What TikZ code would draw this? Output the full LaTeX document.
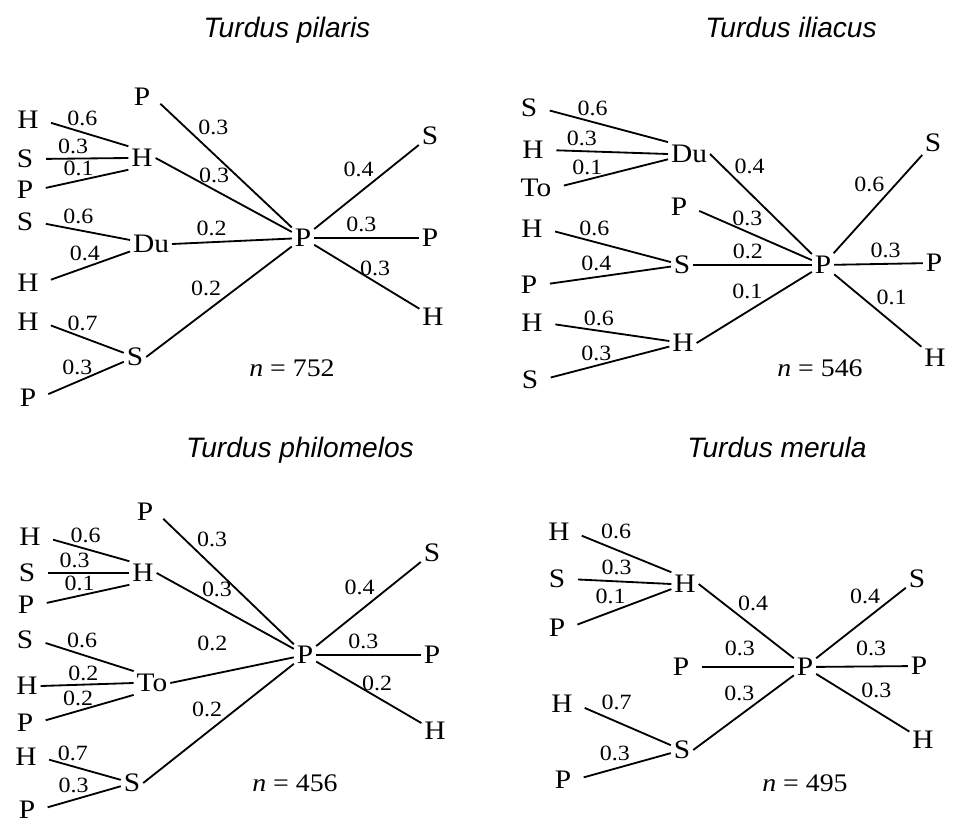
\documentclass[tikz,border=0pt]{standalone}
\usepackage{fontspec}
\setmainfont{Liberation Serif}[FakeStretch=1.1]
\newfontfamily\titlefont{Liberation Sans}
\usetikzlibrary{positioning}

\begin{document}
\begin{tikzpicture}[
    x=0.025cm, y=-0.025cm, line width=1.3pt,
    sp/.style={font=\fontsize{19}{22}\selectfont, inner sep=1.5pt},
    lbl/.style={font=\fontsize{15.5}{18}\selectfont, inner sep=1pt},
    ttl/.style={font=\titlefont\itshape\fontsize{20}{24}\selectfont, anchor=base, inner sep=0pt},
    cnt/.style={font=\fontsize{18}{21}\selectfont},
    lf/.style={shorten <=7pt}
  ]
  \useasboundingbox (0,0) rectangle (964,829);

  % Turdus pilaris
  \node[ttl] (ta) at (287,37) {Turdus pilaris};
  \node[sp] (aH1) at (28,120) {H};
  \node[sp] (aS1) at (25,159) {S};
  \node[sp] (aP1) at (25,190) {P};
  \node[sp] (aS2) at (25,222) {S};
  \node[sp] (aH2) at (28,283) {H};
  \node[sp] (aH3) at (28,322) {H};
  \node[sp] (aP2) at (28,398) {P};
  \node[sp] (aPt) at (142,97) {P};
  \node[sp] (aH) at (142,158) {H};
  \node[sp] (aDu) at (151,244) {Du};
  \node[sp] (aS) at (135,357) {S};
  \node[sp] (aP) at (303,238) {P};
  \node[sp] (aSr) at (430,136) {S};
  \node[sp] (aPr) at (430,238) {P};
  \node[sp] (aHr) at (433,317) {H};
  \node[cnt] (an) at (292,368) {\textit{n} = 752};

  \draw[lf] (aH1.east) -- node[lbl, pos=.47, above=3pt] {0.6} (aH.north west);
  \draw[lf] (aS1.east) -- node[lbl, pos=.4, above=2pt] {0.3} (aH.west);
  \draw[lf] (aP1.east) -- node[lbl, pos=.46, above=2pt] {0.1} (aH.south west);
  \draw[lf] (aS2.east) -- node[lbl, pos=.45, above=3pt] {0.6} (aDu);
  \draw[lf] (aH2.east) -- node[lbl, pos=.49, above=3pt] {0.4} (aDu);
  \draw[lf] (aH3.east) -- node[lbl, pos=.5, above=3pt] {0.7} (aS);
  \draw[lf] (aP2.east) -- node[lbl, pos=.45, above=3pt] {0.3} (aS);
  \draw[lf] (aPt.east) -- node[lbl, pos=.31, above right] {0.3} (aP);
  \draw (aH.east) -- node[lbl, pos=.43, above=3pt] {0.3} (aP);
  \draw (aDu.east) -- node[lbl, pos=.33, above=3pt] {0.2} (aP);
  \draw (aS.east) -- node[lbl, pos=.53, above left] {0.2} (aP);
  \draw (aP) -- node[lbl, pos=.59, above left] {0.4} (aSr);
  \draw (aP) -- node[lbl, pos=.45, above=3pt] {0.3} (aPr);
  \draw (aP) -- node[lbl, pos=.58, above=3pt] {0.3} (aHr);

  % Turdus iliacus
  \node[ttl] (tb) at (791,37) {Turdus iliacus};
  \node[sp] (bS1) at (529,108) {S};
  \node[sp] (bH1) at (533,150) {H};
  \node[sp] (bTo) at (536,188) {To};
  \node[sp] (bH2) at (532,229) {H};
  \node[sp] (bP1) at (529,285) {P};
  \node[sp] (bH3) at (532,323) {H};
  \node[sp] (bS2) at (530,380) {S};
  \node[sp] (bDu) at (689,154) {Du};
  \node[sp] (bPt) at (679,207) {P};
  \node[sp] (bS) at (682,265) {S};
  \node[sp] (bH) at (683,343) {H};
  \node[sp] (bP) at (823,265) {P};
  \node[sp] (bSr) at (933,143) {S};
  \node[sp] (bPr) at (934,263) {P};
  \node[sp] (bHr) at (935,358) {H};
  \node[cnt] (bn) at (820,368) {\textit{n} = 546};

  \draw[lf] (bS1.east) -- node[lbl, pos=.41, above=3pt] {0.6} (bDu.north west);
  \draw[lf] (bH1.east) -- node[lbl, pos=.29, above=2pt] {0.3} (bDu.west);
  \draw[lf] (bTo.east) -- node[lbl, pos=.29, above=2pt] {0.1} (bDu);
  \draw[lf] (bH2.east) -- node[lbl, pos=.39, above=3pt] {0.6} (bS);
  \draw[lf] (bP1.east) -- node[lbl, pos=.43, above=3pt] {0.4} (bS);
  \draw[lf] (bH3.east) -- node[lbl, pos=.43, above=2pt] {0.6} (bH);
  \draw[lf] (bS2.east) -- node[lbl, pos=.43, above=2pt] {0.3} (bH);
  \draw (bDu.east) -- node[lbl, pos=.22, above right] {0.4} (bP);
  \draw[lf] (bPt.east) -- node[lbl, pos=.47, above=3pt] {0.3} (bP);
  \draw (bS.east) -- node[lbl, pos=.46, above=3pt] {0.2} (bP);
  \draw (bH.east) -- node[lbl, pos=.59, above left] {0.1} (bP);
  \draw (bP) -- node[lbl, pos=.6, above left] {0.6} (bSr);
  \draw (bP) -- node[lbl, pos=.58, above=3pt] {0.3} (bPr);
  \draw (bP) -- node[lbl, pos=.46, above right] {0.1} (bHr);

  % Turdus philomelos
  \node[ttl] (tc) at (300,457) {Turdus philomelos};
  \node[sp] (cH1) at (30,537) {H};
  \node[sp] (cS1) at (27,573) {S};
  \node[sp] (cP1) at (26,605) {P};
  \node[sp] (cS2) at (25,640) {S};
  \node[sp] (cH2) at (27,686) {H};
  \node[sp] (cP2) at (25,723) {P};
  \node[sp] (cH3) at (26,757) {H};
  \node[sp] (cP3) at (27,810) {P};
  \node[sp] (cPt) at (145,512) {P};
  \node[sp] (cH) at (143,573) {H};
  \node[sp] (cTo) at (152,683) {To};
  \node[sp] (cS) at (132,783) {S};
  \node[sp] (cP) at (305,655) {P};
  \node[sp] (cSr) at (432,553) {S};
  \node[sp] (cPr) at (432,655) {P};
  \node[sp] (cHr) at (435,731) {H};
  \node[cnt] (cn) at (295,783) {\textit{n} = 456};

  \draw[lf] (cH1.east) -- node[lbl, pos=.49, above=3pt] {0.6} (cH.north west);
  \draw[lf] (cS1.east) -- node[lbl, pos=.4, above=2pt] {0.3} (cH.west);
  \draw[lf] (cP1.east) -- node[lbl, pos=.46, above=2pt] {0.1} (cH.south west);
  \draw[lf] (cS2.east) -- node[lbl, pos=.47, above=3pt] {0.6} (cTo.north west);
  \draw (cH2.east) -- node[lbl, pos=.46, above=1pt] {0.2} (cTo.west);
  \draw[lf] (cP2.east) -- node[lbl, pos=.43, above=2pt] {0.2} (cTo.south west);
  \draw[lf] (cH3.east) -- node[lbl, pos=.41, above=2pt] {0.7} (cS);
  \draw[lf] (cP3.east) -- node[lbl, pos=.43, above=3pt] {0.3} (cS);
  \draw[lf] (cPt.east) -- node[lbl, pos=.28, above right] {0.3} (cP);
  \draw (cH.east) -- node[lbl, pos=.44, above=5pt] {0.3} (cP);
  \draw (cTo.east) -- node[lbl, pos=.34, above=15pt] {0.2} (cP);
  \draw (cS.east) -- node[lbl, pos=.54, above left] {0.2} (cP);
  \draw (cP) -- node[lbl, pos=.58, above left] {0.4} (cSr);
  \draw (cP) -- node[lbl, pos=.45, above=3pt] {0.3} (cPr);
  \draw (cP) -- node[lbl, pos=.58, above=3pt] {0.2} (cHr);

  % Turdus merula
  \node[ttl] (td) at (777,457) {Turdus merula};
  \node[sp] (dH1) at (559,532) {H};
  \node[sp] (dS1) at (557,579) {S};
  \node[sp] (dP1) at (557,628) {P};
  \node[sp] (dH2) at (562,704) {H};
  \node[sp] (dP2) at (563,780) {P};
  \node[sp] (dH) at (685,584) {H};
  \node[sp] (dPt) at (681,667) {P};
  \node[sp] (dS) at (682,750) {S};
  \node[sp] (dP) at (805,667) {P};
  \node[sp] (dSr) at (917,579) {S};
  \node[sp] (dPr) at (919,666) {P};
  \node[sp] (dHr) at (923,740) {H};
  \node[cnt] (dn) at (805,783) {\textit{n} = 495};

  \draw[lf] (dH1.east) -- node[lbl, pos=.44, above=6pt] {0.6} (dH.north west);
  \draw[lf] (dS1.east) -- node[lbl, pos=.47, above=3pt] {0.3} (dH.west);
  \draw[lf] (dP1.east) -- node[lbl, pos=.41, above=4pt] {0.1} (dH);
  \draw[lf] (dH2.east) -- node[lbl, pos=.43, above=7pt] {0.7} (dS);
  \draw[lf] (dP2.east) -- node[lbl, pos=.42, above=4pt] {0.3} (dS);
  \draw (dH.east) -- node[lbl, pos=.39, above right] {0.4} (dP);
  \draw[lf] (dPt.east) -- node[lbl, pos=.47, above=6pt] {0.3} (dP);
  \draw (dS.east) -- node[lbl, pos=.63, above left] {0.3} (dP);
  \draw (dP) -- node[lbl, pos=.74, above left] {0.4} (dSr);
  \draw (dP) -- node[lbl, pos=.6, above=6pt] {0.3} (dPr);
  \draw (dP) -- node[lbl, pos=.46, above right] {0.3} (dHr);
\end{tikzpicture}
\end{document}
